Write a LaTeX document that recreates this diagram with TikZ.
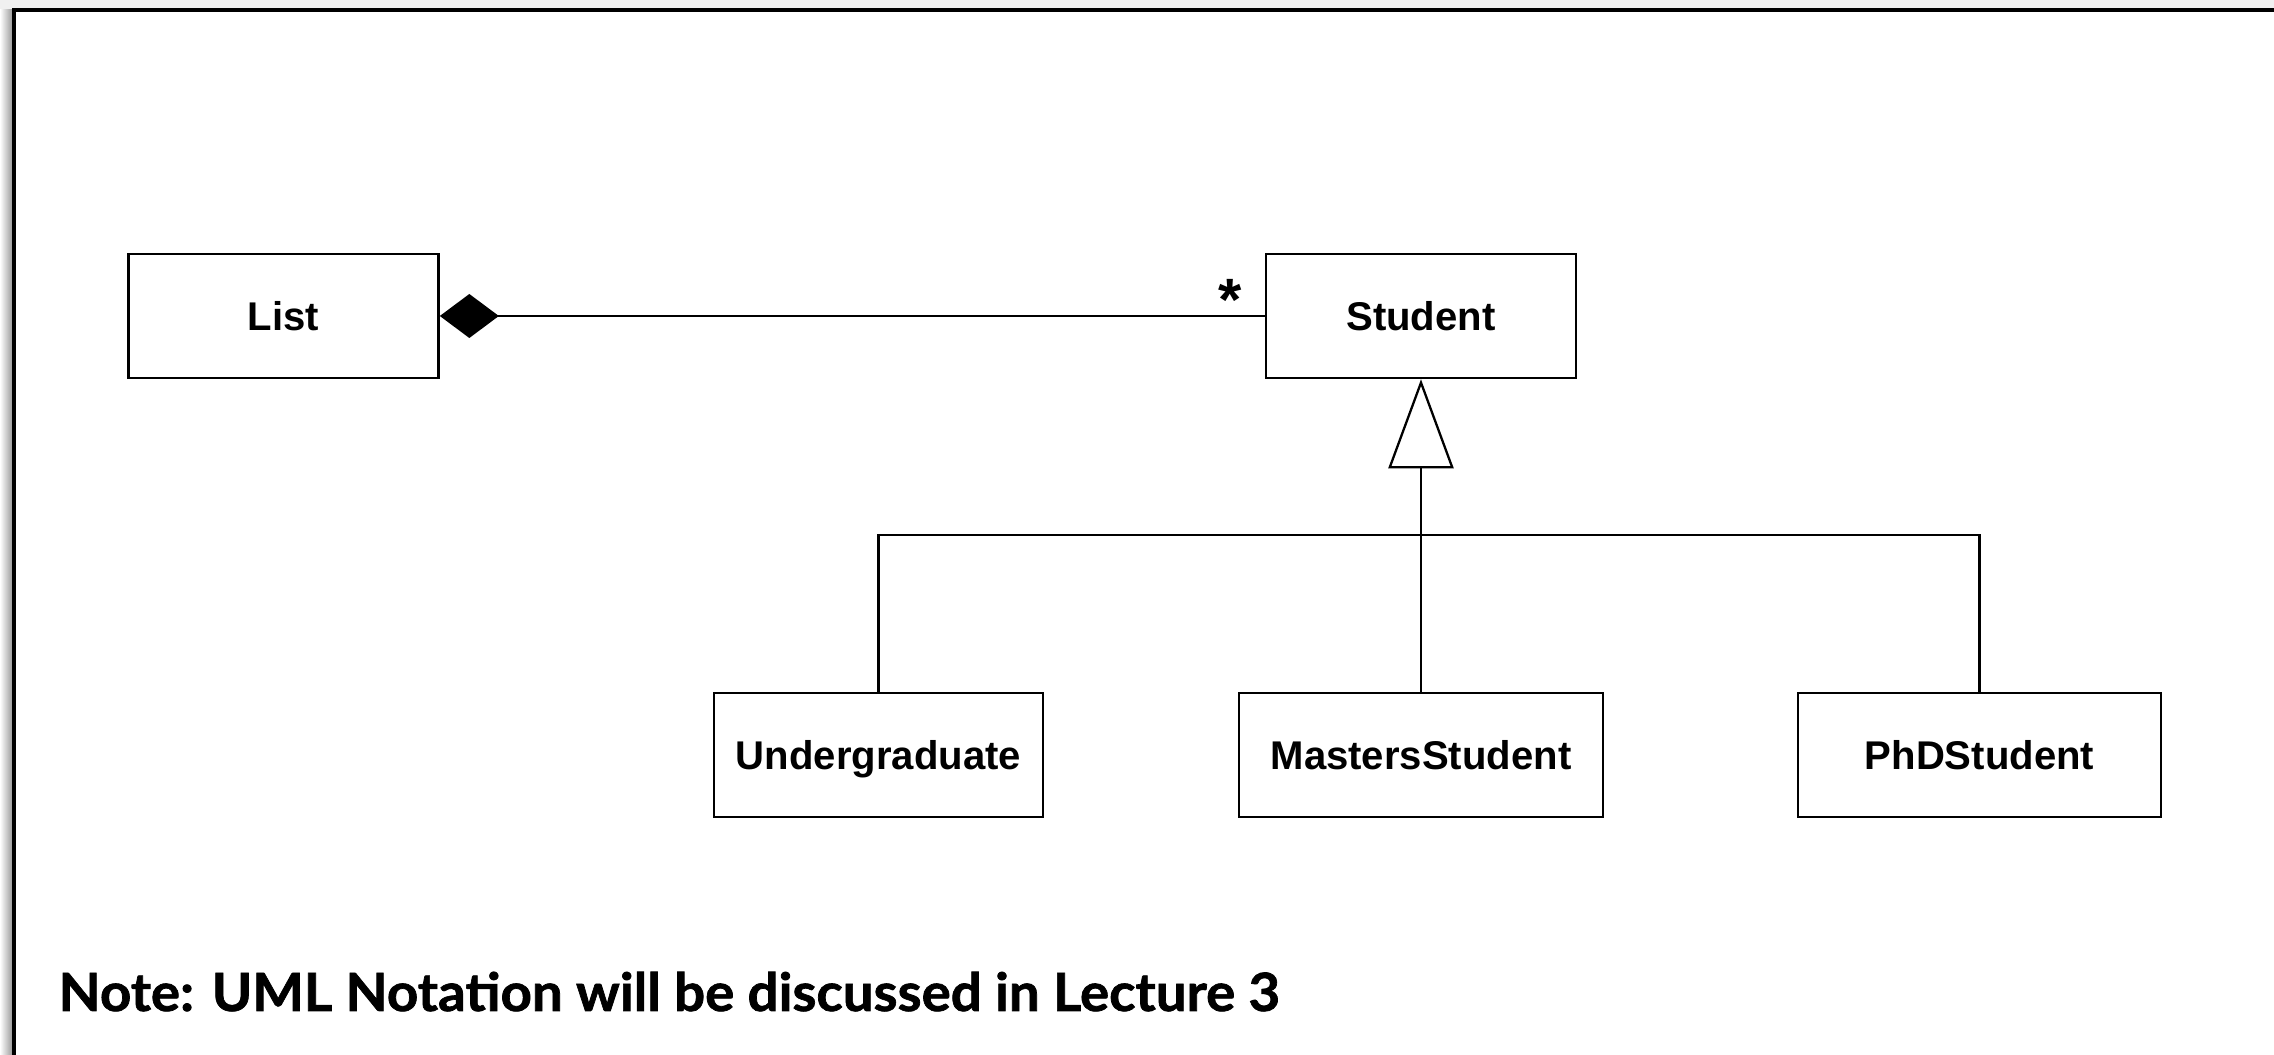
\documentclass[tikz,border=0pt]{standalone}
\usepackage{fontspec}
\setmainfont{Liberation Sans}
\newfontfamily\notefont[BoldFeatures={FakeBold=1.3}]{Lato}
\usetikzlibrary{arrows.meta,positioning}

\tikzset{
	classbox/.style={draw, line width=0.7pt, minimum height=1.24cm, inner sep=0pt,
		text height=0.34cm, text depth=0.06cm,
		font=\fontsize{11.4}{13}\selectfont\bfseries},
	assoc/.style={line width=0.65pt},
}

\begin{document}
\begin{tikzpicture}[x=0.01cm,y=-0.01cm]
\useasboundingbox (0,0) rectangle (2274,1055);

% slide frame with a bit of shadow
\fill[black!6] (0,0) rectangle (2274,10);
\shade[left color=white, right color=black!45] (0,10) rectangle (14,1055);
\draw[line width=0.95pt] (14,1100) -- (14,10) -- (2300,10);

\node[classbox, minimum width=3.1cm] (list) at (283.5,316) {List};
\node[classbox, minimum width=3.1cm] (student) at (1421,316) {Student};

\node[classbox, minimum width=3.29cm] (ug) at (878.5,755) {Undergraduate};
\node[classbox, minimum width=3.64cm] (ms) at (1421,755) {MastersStudent};
\node[classbox, minimum width=3.63cm] (phd) at (1979.5,755) {PhDStudent};

% composition
\draw[assoc, {Diamond[length=0.59cm,width=0.44cm]}-] (list) -- (student);
\node[font=\fontsize{17}{17}\selectfont\bfseries] (many) at (1230,300) {*};

% generalisation
\coordinate (fork) at (1421,535);
\draw[assoc, -{Triangle[open,length=0.89cm,width=0.65cm]}] (fork) -- (student);
\draw[assoc] (ug.north) |- (fork) -| (phd.north);
\draw[assoc] (ms.north) -- (fork);

\node[anchor=base west, inner sep=0pt, font=\notefont\fontsize{15}{15}\selectfont\bfseries] (note) at (58,1011)
	{\scalebox{1.035}[1]{Note: UML Notation will be discussed in Lecture 3}};
\end{tikzpicture}
\end{document}
